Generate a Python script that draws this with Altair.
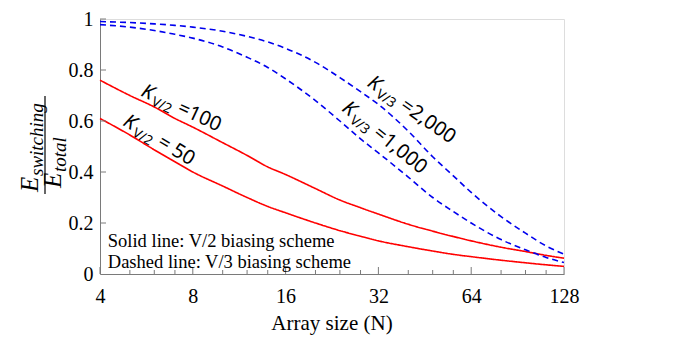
import altair as alt
import pandas as pd

# ---- data ----
N = [4, 5, 6, 7, 8, 10, 12, 14, 16, 20, 24, 28, 32, 40, 48, 56, 64, 80, 96, 112, 128]
v2_k100 = [0.76, 0.70, 0.655, 0.61, 0.576, 0.515, 0.465, 0.42, 0.39, 0.335, 0.29, 0.26, 0.235,
           0.195, 0.168, 0.147, 0.13, 0.105, 0.088, 0.073, 0.062]
v2_k50 = [0.61, 0.545, 0.487, 0.44, 0.40, 0.345, 0.30, 0.265, 0.24, 0.20, 0.17, 0.148, 0.13,
          0.107, 0.09, 0.077, 0.068, 0.054, 0.044, 0.036, 0.03]
v3_k2000 = [0.99, 0.986, 0.981, 0.975, 0.968, 0.952, 0.932, 0.91, 0.885, 0.83, 0.77, 0.715, 0.665,
            0.56, 0.46, 0.385, 0.32, 0.225, 0.16, 0.11, 0.078]
v3_k1000 = [0.978, 0.968, 0.955, 0.94, 0.925, 0.89, 0.85, 0.81, 0.765, 0.68, 0.60, 0.53, 0.475,
            0.38, 0.30, 0.245, 0.20, 0.135, 0.095, 0.065, 0.045]
series = ["V/2, K=100", "V/2, K=50", "V/3, K=2000", "V/3, K=1000"]

x_major = [4, 8, 16, 32, 64, 128]
x_minor = [5, 6, 7, 10, 12, 14, 20, 24, 28, 40, 48, 56, 80, 96, 112]
y_ticks = [0, 0.2, 0.4, 0.6, 0.8, 1.0]

# annotation labels (anchor N, value, angle)
lab_N = [5.39, 4.71, 29.2, 24.2]
lab_v = [0.70, 0.585, 0.74, 0.643]
lab_angle = [25, 31, 35, 39]
lab_sub = ["V/2", "V/2", "V/3", "V/3"]
lab_rest = ["=100", "= 50", "=2,000", "=1,000"]

legend_lines = ["Solid line: V/2 biasing scheme", "Dashed line: V/3 biasing scheme"]
legend_v = [0.13, 0.047]

W, H = 464, 255
AX = "#7a7a7a"
SERIF = "Liberation Serif"
SANS = "Noto Sans"

df = pd.DataFrame({
    "N": N * 4,
    "v": v2_k100 + v2_k50 + v3_k2000 + v3_k1000,
    "s": sum([[s] * len(N) for s in series], []),
})

xs = alt.Scale(type="log", base=2, domain=[4, 128], nice=False)
ys = alt.Scale(domain=[0, 1], nice=False)

lines = alt.Chart(df).mark_line(strokeWidth=1.6, interpolate="monotone").encode(
    x=alt.X("N:Q", scale=xs, title=None,
            axis=alt.Axis(values=x_major, format="d", grid=False, tickSize=0,
                          labelFont=SERIF, labelFontSize=20, labelColor="black",
                          labelPadding=12, domainColor=AX, labelFlush=False)),
    y=alt.Y("v:Q", scale=ys, title=None,
            axis=alt.Axis(values=y_ticks, grid=False, tickSize=0,
                          labelFont=SERIF, labelFontSize=20, labelColor="black",
                          labelPadding=7, domainColor=AX, labelFlush=False,
                          labelExpr="datum.value == 0 ? '0' : datum.value == 1 ? '1' : format(datum.value, '.1f')")),
    color=alt.Color("s:N", scale=alt.Scale(domain=series, range=["#ff0000", "#ff0000", "#0000ee", "#0000ee"]), legend=None),
    strokeDash=alt.StrokeDash("s:N", scale=alt.Scale(domain=series, range=[[1, 0], [1, 0], [6, 4], [6, 4]]), legend=None),
    detail="s:N",
)

maj = alt.Chart(pd.DataFrame({"N": x_major})).mark_rule(color=AX).encode(
    x=alt.X("N:Q", scale=xs, title=None), y=alt.value(H), y2=alt.value(H - 7))
mino = alt.Chart(pd.DataFrame({"N": x_minor})).mark_rule(color=AX).encode(
    x=alt.X("N:Q", scale=xs, title=None), y=alt.value(H), y2=alt.value(H - 4))
yt = alt.Chart(pd.DataFrame({"v": y_ticks[1:]})).mark_rule(color=AX).encode(
    y=alt.Y("v:Q", scale=ys, title=None), x=alt.value(0), x2=alt.value(6))

lab = pd.DataFrame({"N": lab_N, "v": lab_v, "a": lab_angle, "sub": lab_sub, "rest": lab_rest,
                    "k": ["K"] * 4})
base_lab = alt.Chart(lab).encode(x=alt.X("N:Q", scale=xs, title=None),
                                 y=alt.Y("v:Q", scale=ys, title=None),
                                 angle=alt.Angle("a:Q", scale=None))
k_txt = base_lab.mark_text(font=SANS, fontSize=20, fontStyle="italic", align="left",
                           baseline="alphabetic", color="black").encode(text="k:N")
sub_txt = base_lab.mark_text(font=SANS, fontSize=13.5, align="left", baseline="alphabetic",
                             dx=13.5, dy=4, color="black").encode(text="sub:N")
rest_txt = base_lab.mark_text(font=SANS, fontSize=20, align="left", baseline="alphabetic",
                              dx=40, color="black").encode(text="rest:N")

leg = alt.Chart(pd.DataFrame({"N": [4.24, 4.24], "v": legend_v, "t": legend_lines})).mark_text(
    font=SERIF, fontSize=18.5, align="left", baseline="middle", color="black").encode(
    x=alt.X("N:Q", scale=xs, title=None), y=alt.Y("v:Q", scale=ys, title=None), text="t:N")

one = pd.DataFrame({"a": [0]})
xtitle = alt.Chart(one).mark_text(text="Array size (N)", font=SERIF, fontSize=21,
                                  baseline="middle", align="center", color="black").encode(
    x=alt.value(W / 2), y=alt.value(H + 50))

num_E = alt.Chart(one).mark_text(text="E", font=SERIF, fontSize=25, fontStyle="italic",
                                 angle=270, align="left", baseline="alphabetic", color="black").encode(
    x=alt.value(-62), y=alt.value(173))
num_s = alt.Chart(one).mark_text(text="switching", font=SERIF, fontSize=19, fontStyle="italic",
                                 angle=270, align="left", baseline="alphabetic", dx=16, dy=5,
                                 color="black").encode(x=alt.value(-62), y=alt.value(173))
bar = alt.Chart(one).mark_rule(color="black", strokeWidth=1.2).encode(
    x=alt.value(-55), y=alt.value(77), y2=alt.value(175))
den_E = alt.Chart(one).mark_text(text="E", font=SERIF, fontSize=25, fontStyle="italic",
                                 angle=270, align="left", baseline="alphabetic", color="black").encode(
    x=alt.value(-39), y=alt.value(169))
den_s = alt.Chart(one).mark_text(text="total", font=SERIF, fontSize=19, fontStyle="italic",
                                 angle=270, align="left", baseline="alphabetic", dx=16, dy=5,
                                 color="black").encode(x=alt.value(-39), y=alt.value(169))

chart = alt.layer(
    lines, maj, mino, yt, k_txt, sub_txt, rest_txt, leg, xtitle, num_E, num_s, bar, den_E, den_s
).properties(
    width=W, height=H,
    autosize=alt.AutoSizeParams(type="none"),
    padding={"left": 92, "top": 11, "right": 110, "bottom": 64},
).configure_view(stroke=None).configure(background="white")

chart.save("out.html", embed_options={"renderer": "svg", "actions": False})
